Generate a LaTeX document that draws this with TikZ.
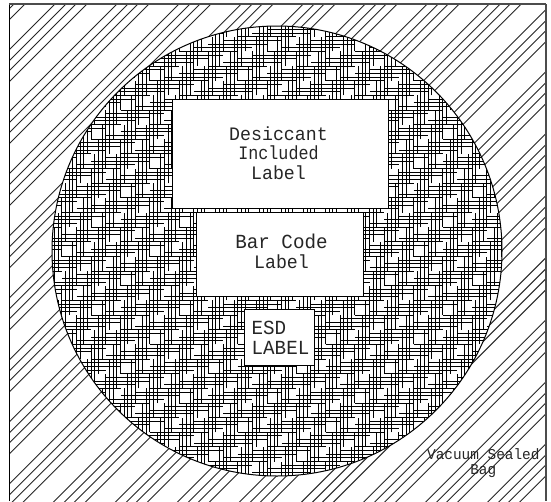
\documentclass[tikz,border=0pt]{standalone}
\usepackage{fontspec}
\setmainfont{Liberation Mono}
\newfontfamily\stickfont[FakeStretch=0.96]{Liberation Mono}
\newfontfamily\sticknarrow[FakeStretch=0.88]{Liberation Mono}
\tikzset{
  outline/.style={line width=1pt,black},
  diag/.style={line width=0.9pt,black!85},
  hound/.style={line width=1pt,black,dash pattern=on 58.6pt off 29.3pt},
  labelbox/.style={draw=black,line width=1pt,fill=white,inner sep=0pt,outer sep=0pt},
  big/.style={anchor=base,inner sep=0pt,font=\stickfont\fontsize{19}{19}\selectfont,text=black!85},
  narrow/.style={big,font=\sticknarrow\fontsize{19}{19}\selectfont},
  wide/.style={big,font=\stickfont\fontsize{20}{20}\selectfont},
  small/.style={anchor=base,inner sep=0pt,font=\stickfont\fontsize{15}{15}\selectfont,text=black!85}
}
\begin{document}
\begin{tikzpicture}[x=1pt,y=-1pt]
\useasboundingbox (0,0) rectangle (551,501);
\fill[white] (0,0) rectangle (551,501);
\def\Xo{120.5}
\def\Yo{197.9}
\def\Sp{3.6625}
% diagonal hatch of the bag
\begin{scope}
\clip (9.5,4) rectangle (546,501);
\foreach \k in {0,...,17}{
  \foreach \d in {59,70,80,91}{
    \pgfmathsetmacro\c{\d+62.05*(\k-1)}
    \draw[diag] (\c+10,-10) -- (\c-600,600);
  }
}
\end{scope}
\fill[white] (277,251) circle[radius=225];
% houndstooth hatch of the wafer
\begin{scope}
\clip (277,251) circle[radius=225];
\foreach \n in {0,...,144}{
  \pgfmathsetmacro\r{mod(\n,6)}
  \pgfmathsetmacro\yy{\Yo+6*14*\Sp-\Sp*\n}
  \pgfmathsetmacro\xs{\Xo+4*\Sp*\r-24*2*\Sp}
  \draw[hound] (\xs,\yy) -- (620,\yy);
}
\foreach \m in {0,...,144}{
  \pgfmathsetmacro\r{mod(\m,6)}
  \pgfmathsetmacro\xx{\Xo-24*\Sp+\Sp*\m}
  \pgfmathsetmacro\ys{\Yo+24*5*\Sp-4*\Sp*\r}
  \draw[hound] (\xx,\ys) -- (\xx,-20);
}
\end{scope}
\draw[outline] (277,251) circle[radius=225];
% frame
\draw[outline] (9.5,501) -- (9.5,4);
\draw[line width=1.6pt,black!70] (9,4) -- (546,4);
\draw[line width=1.6pt,black!70] (546,4) -- (546,501);
% labels
\node[labelbox,minimum width=216pt,minimum height=109pt] (boxa) at (280.3,153.8) {};
\node[labelbox,minimum width=167.3pt,minimum height=84pt] (boxb) at (280.3,254.7) {};
\node[labelbox,minimum width=69.7pt,minimum height=56.4pt] (boxc) at (279.2,337.5) {};
\node[big] (t1) at (278.5,140) {Desiccant};
\node[narrow] (t2) at (278.5,159.5) {Included};
\node[big] (t3) at (278.5,179) {Label};
\node[wide] (t4) at (281.5,248.7) {Bar Code};
\node[big] (t5) at (281.5,268.7) {Label};
\node[wide,anchor=base west] (t6) at (251.5,334.3) {ESD};
\node[wide,anchor=base west] (t7) at (251.5,354.3) {LABEL};
\node[small] (t8) at (483.3,459) {Vacuum Sealed};
\node[small] (t9) at (483.3,474) {Bag};
\end{tikzpicture}
\end{document}
